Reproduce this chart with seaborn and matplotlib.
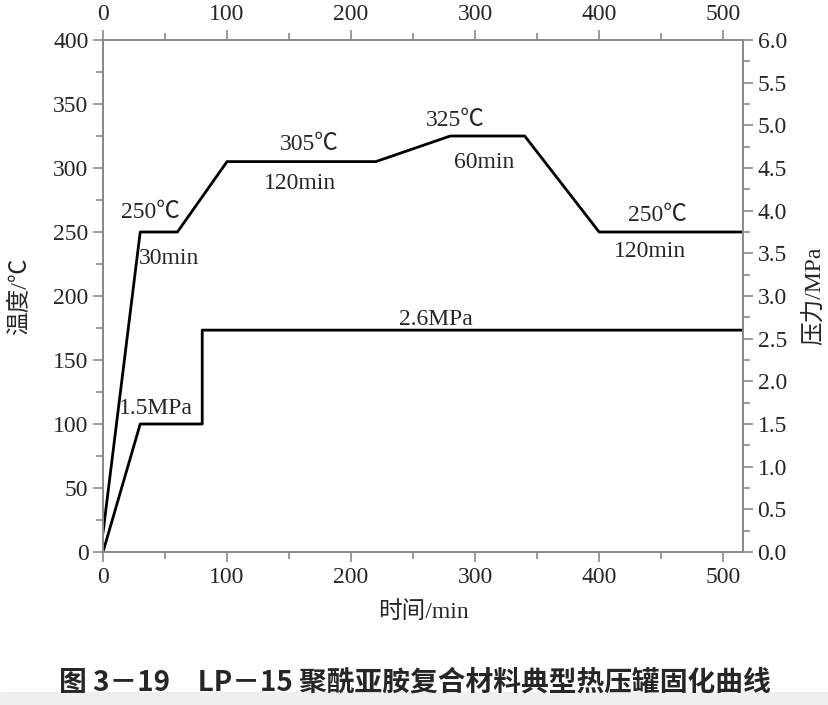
import matplotlib
matplotlib.use("Agg")
import matplotlib.pyplot as plt
from matplotlib.ticker import MultipleLocator
import pandas as pd
import seaborn as sns

# temperature profile (min, degC)
t_time = [0, 30, 60, 100, 220, 280, 340, 400, 520]
t_temp = [15, 250, 250, 305, 305, 325, 325, 250, 250]
# pressure profile (min, MPa)
p_time = [0, 30, 80, 80, 520]
p_pres = [0, 1.5, 1.5, 2.6, 2.6]

temp_labels = [("250℃", 38, 265), ("30min", 53, 229), ("305℃", 166, 318),
               ("120min", 159, 288), ("325℃", 284, 337), ("60min", 307, 304),
               ("250℃", 447, 263), ("120min", 441, 235)]
pres_labels = [("2.6MPa", 268, 2.72), ("1.5MPa", 43, 1.68)]

sns.set_style("white")
fonts = ['Liberation Serif', 'Noto Sans CJK SC', 'DejaVu Sans']
plt.rcParams['font.family'] = fonts

grey = '#8a8a8a'
fig = plt.figure(figsize=(8.29, 7.05), dpi=100)
fig.patch.set_facecolor('white')
ax = fig.add_axes([103/829, 1 - 552/705, 640/829, 512/705])

df_t = pd.DataFrame({'time': t_time, 'temp': t_temp})
df_p = pd.DataFrame({'time': p_time, 'pres': p_pres})

sns.lineplot(data=df_t, x='time', y='temp', ax=ax, color='black', lw=2,
             sort=False, estimator=None)
ax.set_xlim(0, 516)
ax.set_ylim(0, 400)

ax2 = ax.twinx()
sns.lineplot(data=df_p, x='time', y='pres', ax=ax2, color='black', lw=2,
             sort=False, estimator=None)
ax2.set_ylim(0, 6.0)

ax3 = ax.twiny()
ax3.set_xlim(ax.get_xlim())

for a in (ax, ax2, ax3):
    for s in a.spines.values():
        s.set_color(grey)
        s.set_linewidth(1.3)
    a.tick_params(which='both', color=grey, width=1.2, labelsize=17, direction='out')
    a.tick_params(which='major', length=7)
    a.tick_params(which='minor', length=5)

ax.xaxis.set_major_locator(MultipleLocator(100))
ax.xaxis.set_minor_locator(MultipleLocator(50))
ax3.xaxis.set_major_locator(MultipleLocator(100))
ax3.xaxis.set_minor_locator(MultipleLocator(50))
ax.yaxis.set_major_locator(MultipleLocator(50))
ax.yaxis.set_minor_locator(MultipleLocator(25))
ax2.yaxis.set_major_locator(MultipleLocator(0.5))
ax2.yaxis.set_minor_locator(MultipleLocator(0.25))
ax2.yaxis.set_major_formatter(plt.FormatStrFormatter('%.1f'))

ax.set_xlabel('时间/min', fontsize=17, labelpad=10)
ax.set_ylabel('温度/℃', fontsize=17, labelpad=16)
ax2.set_ylabel('压力/MPa', fontsize=17, rotation=90, labelpad=12)
ax3.set_xlabel('')

for txt, x, y in temp_labels:
    ax.text(x, y, txt, fontsize=17, ha='center', va='center')
for txt, x, y in pres_labels:
    ax2.text(x, y, txt, fontsize=17, ha='center', va='center')

fig.text(0.5, 1 - 683/705, '图 3－19　LP－15 聚酰亚胺复合材料典型热压罐固化曲线',
         ha='center', va='center', fontsize=20, fontweight='bold',
         family=['Noto Sans CJK SC', 'DejaVu Sans'])
fig.patches.append(plt.Rectangle((0, 0), 1, 1 - 692/705, transform=fig.transFigure,
                                 color='#efefef', zorder=-1))

fig.savefig('out.png', dpi=100)
